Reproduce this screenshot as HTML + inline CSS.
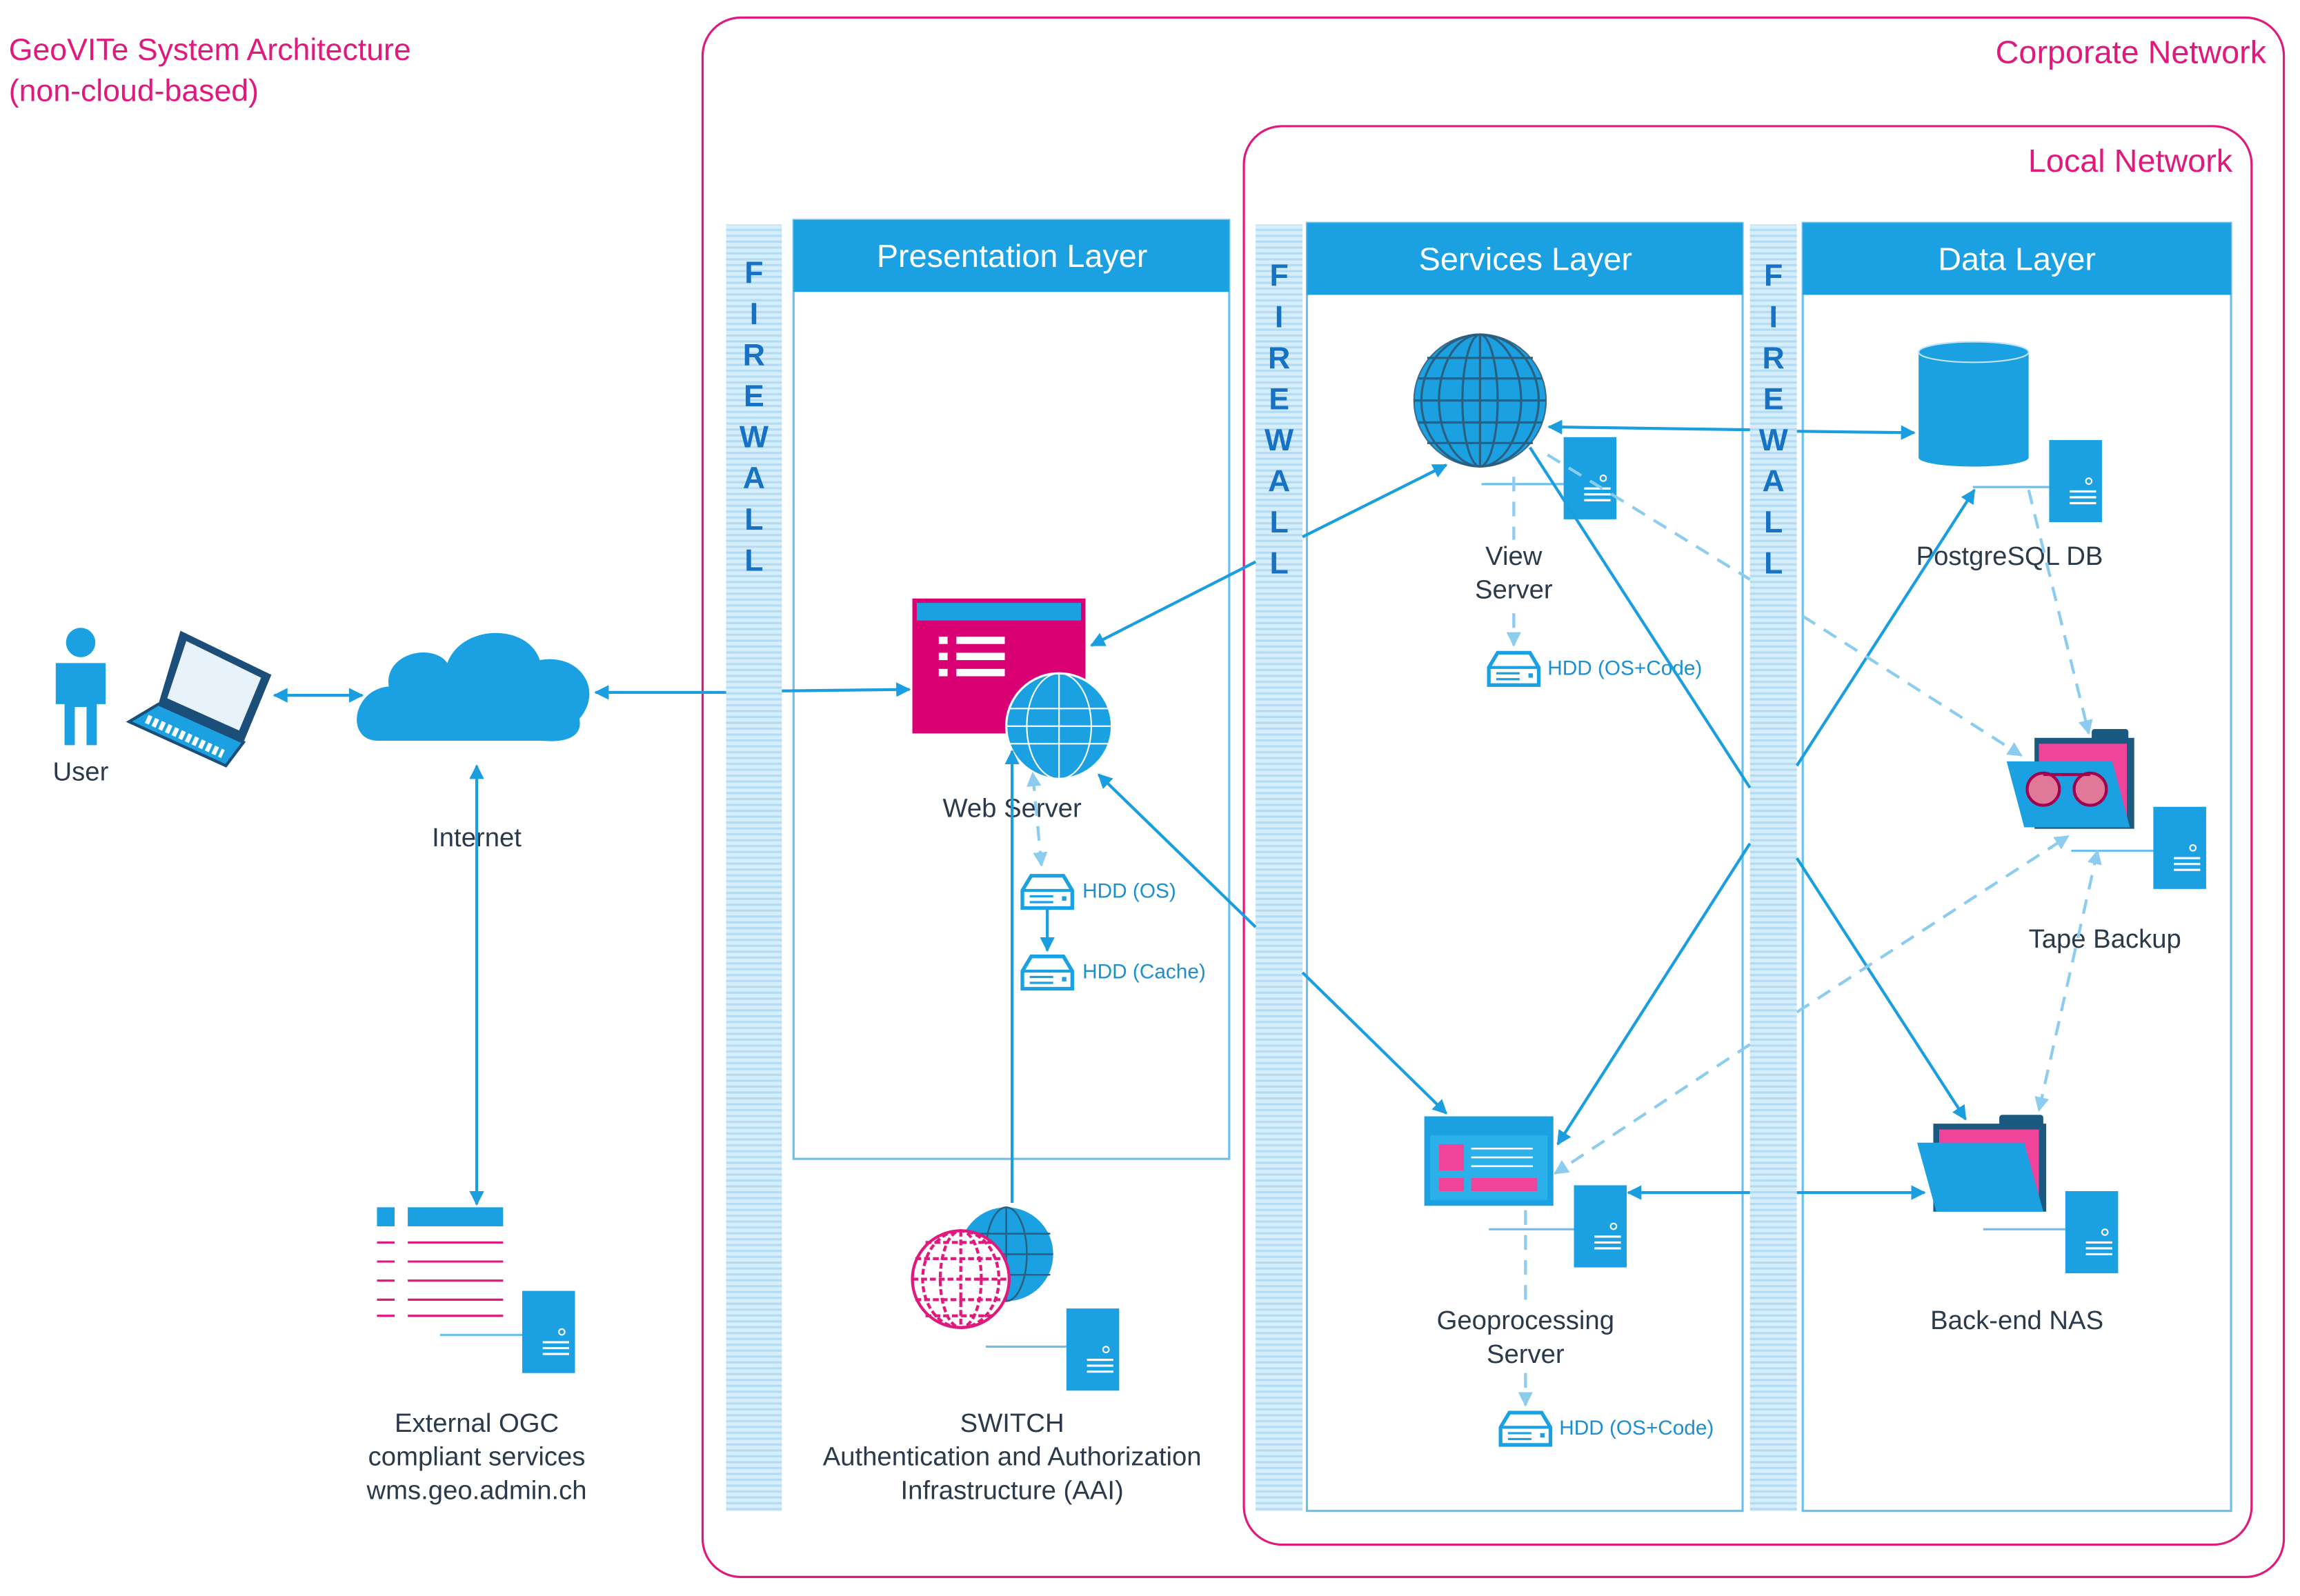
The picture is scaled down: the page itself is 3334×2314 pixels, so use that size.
<!DOCTYPE html>
<html><head><meta charset="utf-8"><style>html,body{margin:0;padding:0;background:#fff}svg{display:block}</style></head>
<body>
<svg width="3334" height="2314" viewBox="0 0 1568 1088" preserveAspectRatio="none" xmlns="http://www.w3.org/2000/svg" font-family="Liberation Sans, sans-serif">
<defs>
<marker id="a" viewBox="0 0 10 10" refX="9" refY="5" markerWidth="5" markerHeight="5" orient="auto-start-reverse"><path d="M0,0L10,5L0,10z" fill="#1b9ee0"/></marker>
<marker id="b" viewBox="0 0 10 10" refX="9" refY="5" markerWidth="5" markerHeight="5" orient="auto-start-reverse"><path d="M0,0L10,5L0,10z" fill="#8ccdef"/></marker>
<pattern id="fw" width="4" height="4" patternUnits="userSpaceOnUse"><rect width="4" height="4" fill="#d6edfa"/><rect width="4" height="1.5" fill="#b3dcf4"/></pattern>
<g id="srv"><rect x="0" y="0" width="36" height="56" fill="#1ba1e2"/><circle cx="27" cy="28" r="2" fill="none" stroke="#fff" stroke-width="1"/><path d="M14 35h18M14 39h18M14 43h18" stroke="#fff" stroke-width="1.5"/></g>
<g id="hdd"><path d="M2 12 L8 2 H30 L36 12 V24 H2 Z" fill="#fff" stroke="#1ba1e2" stroke-width="2.5"/><path d="M2 12H36" stroke="#1ba1e2" stroke-width="2"/><path d="M7 16h16M7 20h16" stroke="#1ba1e2" stroke-width="1.5"/><rect x="29" y="16" width="3" height="3" fill="#1ba1e2"/></g>
<g id="globe"><circle r="45" fill="#1ba1e2" stroke="#3a6b8a" stroke-width="1"/><g fill="none" stroke="#2a5f80" stroke-width="1.5"><ellipse rx="12" ry="45"/><ellipse rx="28" ry="45"/><ellipse rx="40" ry="45"/><path d="M0-45V45M-45 0H45M-42-15H42M-42 15H42M-36-29H36M-36 29H36"/></g></g>
</defs>

<text x="6" y="41" font-size="21" fill="#e0197d">GeoVITe System Architecture</text>
<text x="6" y="69" font-size="21" fill="#e0197d">(non-cloud-based)</text>

<rect x="479" y="12" width="1078" height="1063" rx="26" fill="none" stroke="#e0197d" stroke-width="1.5"/>
<text x="1545" y="43" font-size="22" fill="#e0197d" text-anchor="end">Corporate Network</text>
<rect x="848" y="86" width="687" height="967" rx="26" fill="none" stroke="#e0197d" stroke-width="1.5"/>
<text x="1522" y="117" font-size="22" fill="#e0197d" text-anchor="end">Local Network</text>

<!-- layers -->
<rect x="541" y="150" width="297" height="640" fill="none" stroke="#6cc0ec" stroke-width="1.5"/>
<rect x="541" y="150" width="297" height="49" fill="#1ba1e2"/>
<text x="690" y="182" font-size="22" fill="#fff" text-anchor="middle">Presentation Layer</text>
<rect x="891" y="152" width="297" height="878" fill="none" stroke="#6cc0ec" stroke-width="1.5"/>
<rect x="891" y="152" width="297" height="49" fill="#1ba1e2"/>
<text x="1040" y="184" font-size="22" fill="#fff" text-anchor="middle">Services Layer</text>
<rect x="1229" y="152" width="292" height="878" fill="none" stroke="#6cc0ec" stroke-width="1.5"/>
<rect x="1229" y="152" width="292" height="49" fill="#1ba1e2"/>
<text x="1375" y="184" font-size="22" fill="#fff" text-anchor="middle">Data Layer</text>

<!-- firewalls -->
<g font-size="21" font-weight="bold" fill="#1772c4" text-anchor="middle">
<rect x="495" y="153" width="38" height="877" fill="url(#fw)"/>
<text x="514" y="193">F</text><text x="514" y="221">I</text><text x="514" y="249">R</text><text x="514" y="277">E</text><text x="514" y="305">W</text><text x="514" y="333">A</text><text x="514" y="361">L</text><text x="514" y="389">L</text>
<rect x="856" y="153" width="32" height="877" fill="url(#fw)"/>
<text x="872" y="195">F</text><text x="872" y="223">I</text><text x="872" y="251">R</text><text x="872" y="279">E</text><text x="872" y="307">W</text><text x="872" y="335">A</text><text x="872" y="363">L</text><text x="872" y="391">L</text>
<rect x="1193" y="153" width="32" height="877" fill="url(#fw)"/>
<text x="1209" y="195">F</text><text x="1209" y="223">I</text><text x="1209" y="251">R</text><text x="1209" y="279">E</text><text x="1209" y="307">W</text><text x="1209" y="335">A</text><text x="1209" y="363">L</text><text x="1209" y="391">L</text>
</g>

<!-- user -->
<circle cx="55" cy="438" r="10" fill="#1ba1e2"/>
<path d="M38 452H72V480H66V508H59V482H51V508H44V480H38Z" fill="#1ba1e2"/>
<text x="55" y="532" font-size="18" fill="#2b3a4a" text-anchor="middle">User</text>
<!-- laptop -->
<g transform="translate(88,430)">
<path d="M35 0 L97 30 L78 76 L20 50 Z" fill="#1b4f7a"/><path d="M39 7 L90 32 L75 68 L26 46 Z" fill="#e8f2fa"/>
<path d="M20 50 L78 76 L66 92 L0 62 Z" fill="#1ba1e2" stroke="#1b4f7a" stroke-width="2"/>
<path d="M12 60 L64 84" stroke="#fff" stroke-width="6" stroke-dasharray="3 2"/>
</g>
<!-- cloud -->
<path d="M258 505 C235 505 240 470 265 468 C262 445 295 438 305 452 C315 425 360 425 368 450 C395 445 412 470 395 490 C398 505 380 506 370 505 Z" fill="#1ba1e2"/>
<text x="325" y="577" font-size="18" fill="#2b3a4a" text-anchor="middle">Internet</text>

<!-- external OGC -->
<rect x="257" y="823" width="12" height="13" fill="#1ba1e2"/><rect x="278" y="823" width="65" height="13" fill="#1ba1e2"/>
<g stroke="#e0197d" stroke-width="1.5"><path d="M257 847h12M278 847h65M257 860h12M278 860h65M257 873h12M278 873h65M257 886h12M278 886h65M257 897h12M278 897h65"/></g>
<path d="M300 910H356" stroke="#6cc0ec" stroke-width="1.5"/>
<use href="#srv" x="356" y="880" transform="translate(0,0)"/>
<g font-size="18" fill="#2b3a4a" text-anchor="middle"><text x="325" y="976">External OGC</text><text x="325" y="999">compliant services</text><text x="325" y="1022">wms.geo.admin.ch</text></g>

<!-- web server -->
<rect x="622" y="408" width="118" height="92" fill="#d80073"/>
<rect x="625" y="411" width="112" height="12" fill="#1ba1e2"/>
<g fill="#fff"><rect x="640" y="434" width="6" height="5"/><rect x="652" y="434" width="33" height="5"/><rect x="640" y="445" width="6" height="5"/><rect x="652" y="445" width="33" height="5"/><rect x="640" y="456" width="6" height="5"/><rect x="652" y="456" width="33" height="5"/></g>
<g transform="translate(722,495)"><circle r="36" fill="#1ba1e2" stroke="#fff" stroke-width="1.5"/><g fill="none" stroke="#fff" stroke-width="1"><ellipse rx="22" ry="36"/><path d="M0-36V36M-36 0H36M-34-12H34M-34 12H34"/></g></g>
<text x="690" y="557" font-size="18" fill="#2b3a4a" text-anchor="middle">Web Server</text>
<use href="#hdd" x="695" y="595"/><text x="738" y="612" font-size="14" fill="#1b8fd0">HDD (OS)</text>
<use href="#hdd" x="695" y="650"/><text x="738" y="667" font-size="14" fill="#1b8fd0">HDD (Cache)</text>

<!-- SWITCH -->
<g transform="translate(686,855)"><circle r="32" fill="#1ba1e2"/><g fill="none" stroke="#2a5f80" stroke-width="1.2"><ellipse rx="14" ry="32"/><path d="M0-32V32M-32 0H32M-30-14H30M-30 14H30"/></g></g>
<g transform="translate(655,872)"><circle r="33" fill="#fff" stroke="#e0197d" stroke-width="2"/><g fill="none" stroke="#e0197d" stroke-width="2" stroke-dasharray="4 2"><ellipse rx="14" ry="33"/><ellipse rx="26" ry="33"/><path d="M0-33V33M-33 0H33M-31-14H31M-31 14H31M-24-25H24M-24 25H24"/></g></g>
<path d="M672 918H727" stroke="#6cc0ec" stroke-width="1.5"/>
<use href="#srv" x="727" y="892" transform="scale(1)"/>
<g font-size="18" fill="#2b3a4a" text-anchor="middle"><text x="690" y="976">SWITCH</text><text x="690" y="999">Authentication and Authorization</text><text x="690" y="1022">Infrastructure (AAI)</text></g>

<!-- view server -->
<use href="#globe" x="1009" y="273"/>
<path d="M1010 330H1066" stroke="#6cc0ec" stroke-width="1.5"/>
<use href="#srv" x="1066" y="298"/>
<g font-size="18" fill="#2b3a4a" text-anchor="middle"><text x="1032" y="385">View</text><text x="1032" y="408">Server</text></g>
<use href="#hdd" x="1013" y="443"/><text x="1055" y="460" font-size="14" fill="#1b8fd0">HDD (OS+Code)</text>

<!-- DB -->
<path d="M1308 240 V312 A37 6 0 0 0 1383 312 V240 Z" fill="#1ba1e2"/>
<ellipse cx="1345.5" cy="240" rx="37.5" ry="7" fill="#1ba1e2" stroke="#bfe3f6" stroke-width="1"/>
<path d="M1345 332H1397" stroke="#6cc0ec" stroke-width="1.5"/>
<use href="#srv" x="1397" y="300"/>
<text x="1370" y="385" font-size="18" fill="#2b3a4a" text-anchor="middle">PostgreSQL DB</text>

<!-- tape -->
<rect x="1426" y="497" width="25" height="8" rx="2" fill="#1b5a80"/>
<rect x="1387" y="503" width="68" height="62" fill="#1b5a80"/>
<rect x="1390" y="507" width="60" height="52" fill="#f0449a"/>
<path d="M1368 519H1440L1452 564H1380Z" fill="#1ba1e2"/>
<circle cx="1393" cy="538" r="11" fill="#e07898" stroke="#a3004f" stroke-width="2"/><circle cx="1425" cy="538" r="11" fill="#e07898" stroke="#a3004f" stroke-width="2"/>
<path d="M1393 528H1425" stroke="#a3004f" stroke-width="2"/>
<path d="M1412 580H1468" stroke="#6cc0ec" stroke-width="1.5"/>
<use href="#srv" x="1468" y="550"/>
<text x="1435" y="646" font-size="18" fill="#2b3a4a" text-anchor="middle">Tape Backup</text>

<!-- NAS -->
<rect x="1363" y="760" width="30" height="8" rx="2" fill="#1b5a80"/>
<rect x="1318" y="766" width="77" height="60" fill="#1b5a80"/>
<rect x="1322" y="770" width="68" height="50" fill="#f0449a"/>
<path d="M1307 779H1380L1393 826H1320Z" fill="#1ba1e2"/>
<path d="M1352 838H1408" stroke="#6cc0ec" stroke-width="1.5"/>
<use href="#srv" x="1408" y="812"/>
<text x="1375" y="906" font-size="18" fill="#2b3a4a" text-anchor="middle">Back-end NAS</text>

<!-- geoprocessing -->
<rect x="971" y="761" width="88" height="61" fill="#1ba1e2"/>
<rect x="975" y="774" width="80" height="44" fill="#2cb0ea"/>
<rect x="981" y="780" width="17" height="18" fill="#f0449a"/><rect x="981" y="803" width="17" height="9" fill="#f0449a"/><rect x="1003" y="803" width="45" height="9" fill="#f0449a"/>
<path d="M1003 783h42M1003 789h42M1003 795h42" stroke="#fff" stroke-width="1.2"/>
<path d="M1015 838H1073" stroke="#6cc0ec" stroke-width="1.5"/>
<use href="#srv" x="1073" y="808"/>
<g font-size="18" fill="#2b3a4a" text-anchor="middle"><text x="1040" y="906">Geoprocessing</text><text x="1040" y="929">Server</text></g>
<use href="#hdd" x="1021" y="961"/><text x="1063" y="978" font-size="14" fill="#1b8fd0">HDD (OS+Code)</text>

<!-- connectors solid -->
<g stroke="#1b9ee0" stroke-width="2" fill="none">
<path d="M187 474H247" marker-start="url(#a)" marker-end="url(#a)"/>
<path d="M495 472H406" marker-end="url(#a)"/>
<path d="M533 471L620 470" marker-end="url(#a)"/>
<path d="M325 522V821" marker-start="url(#a)" marker-end="url(#a)"/>
<path d="M690 820V512" marker-end="url(#a)"/>
<path d="M714 620V648" marker-end="url(#a)"/>
<path d="M856 383L744 440" marker-end="url(#a)"/>
<path d="M888 366L986 317" marker-end="url(#a)"/>
<path d="M856 632L749 528" marker-end="url(#a)"/>
<path d="M888 663L986 759" marker-end="url(#a)"/>
<path d="M1193 293L1056 291" marker-end="url(#a)"/>
<path d="M1225 294L1305 295" marker-end="url(#a)"/>
<path d="M1043 305L1193 537"/>
<path d="M1225 585L1340 763" marker-end="url(#a)"/>
<path d="M1193 575L1062 780" marker-end="url(#a)"/>
<path d="M1225 522L1346 334" marker-end="url(#a)"/>
<path d="M1193 813H1110" marker-end="url(#a)"/>
<path d="M1225 813H1312" marker-end="url(#a)"/>
</g>
<!-- dashed -->
<g stroke="#8ccdef" stroke-width="2" fill="none" stroke-dasharray="10 7">
<path d="M710 590L704 527" marker-start="url(#b)" marker-end="url(#b)"/>
<path d="M1055 310L1193 395"/>
<path d="M1229 420L1378 515" marker-end="url(#b)"/>
<path d="M1193 712L1060 800" marker-end="url(#b)"/>
<path d="M1225 690L1410 570" marker-end="url(#b)"/>
<path d="M1383 334L1424 500" marker-end="url(#b)"/>
<path d="M1430 580L1390 757" marker-start="url(#b)" marker-end="url(#b)"/>
<path d="M1032 325V368"/>
<path d="M1032 418V440" marker-end="url(#b)"/>
<path d="M1040 825V890"/>
<path d="M1040 936V958" marker-end="url(#b)"/>
</g>
</svg>
</body></html>
